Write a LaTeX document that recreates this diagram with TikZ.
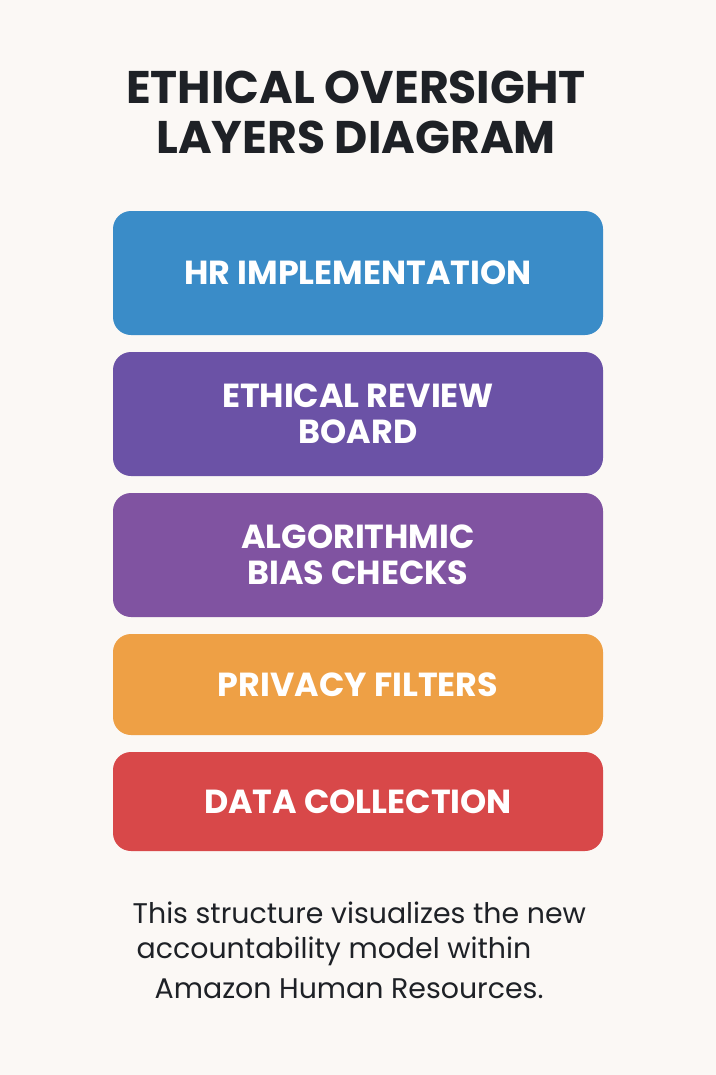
\documentclass[tikz,border=0pt]{standalone}
\usepackage{fontspec}
\setmainfont{Poppins}
\usepackage{tikz}
\usetikzlibrary{positioning}

\definecolor{pagebg}{HTML}{FBF8F5}
\definecolor{titleink}{HTML}{1E2126}
\definecolor{layerblue}{HTML}{3A8CC8}
\definecolor{layerviolet}{HTML}{6B52A6}
\definecolor{layerpurple}{HTML}{8053A1}
\definecolor{layerorange}{HTML}{EEA045}
\definecolor{layerred}{HTML}{D84849}

\tikzset{
    layer/.style={rounded corners=13.5pt, minimum width=367.5pt,
        text=white, font=\bfseries\fontsize{25}{27}\selectfont,
        align=center, inner sep=0pt},
    heading/.style={text=titleink, font=\bfseries\fontsize{34.3}{37}\selectfont},
    caption/.style={text=titleink, font=\fontsize{21.3}{24}\selectfont, anchor=west}
}

\begin{document}
\begin{tikzpicture}[x=0.75pt,y=-0.75pt]
                \fill[pagebg] (0,0) rectangle (716,1075);
                \useasboundingbox (0,0) rectangle (716,1075);
                % title
                \node[heading] (tA) at (356,87) {ETHICAL OVERSIGHT};
                \node[heading] (tB) at (356,137) {LAYERS DIAGRAM};
                % layers, top to bottom
                \node[layer, fill=layerblue, minimum height=93pt] (hr) at (358,273) {HR IMPLEMENTATION};
                \node[layer, fill=layerviolet, minimum height=93pt] (board) at (358,414) {ETHICAL REVIEW\\BOARD};
                \node[layer, fill=layerpurple, minimum height=93pt] (bias) at (358,555) {ALGORITHMIC\\BIAS CHECKS};
                \node[layer, fill=layerorange, minimum height=75.75pt] (privacy) at (358,684.5) {PRIVACY FILTERS};
                \node[layer, fill=layerred, minimum height=74.25pt] (data) at (358,801.5) {DATA COLLECTION};
                % caption
                \node[caption] (cA) at (128,913) {This structure visualizes the new};
                \node[caption] (cB) at (132,951) {accountability model within};
                \node[caption] (cC) at (150,989) {Amazon Human Resources.};
            \end{tikzpicture}
\end{document}
